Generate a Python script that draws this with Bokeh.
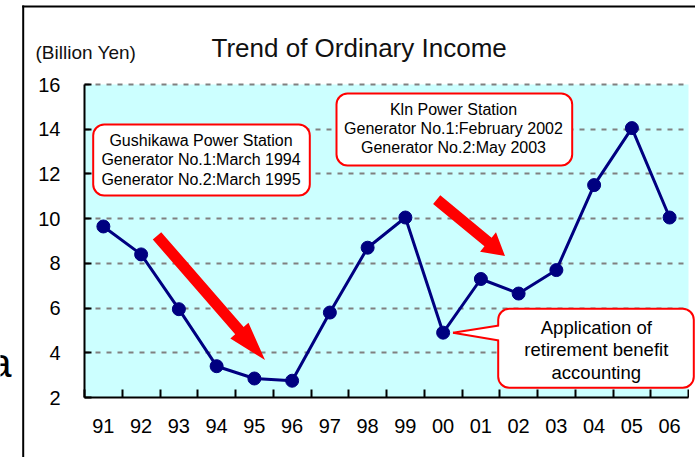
import math
from bokeh.plotting import figure
from bokeh.models import (Range1d, FixedTicker, BoxAnnotation, PolyAnnotation,
                          Label, Arrow)
from bokeh.embed import file_html
from bokeh.resources import INLINE

# ---- data ----
years = ["91", "92", "93", "94", "95", "96", "97", "98", "99", "00",
         "01", "02", "03", "04", "05", "06"]
income = [9.65, 8.4, 5.95, 3.4, 2.85, 2.75, 5.8, 8.7, 10.05, 4.9,
          7.3, 6.65, 7.7, 11.5, 14.05, 10.05]
y_ticks = [2, 4, 6, 8, 10, 12, 14, 16]

title_text = "Trend of Ordinary Income"
unit_text = "(Billion Yen)"
box1_lines = ["Gushikawa Power Station", "Generator No.1:March 1994",
              "Generator No.2:March 1995"]
box2_lines = ["Kln Power Station", "Generator No.1:February 2002",
              "Generator No.2:May 2003"]
box3_lines = ["Application of", "retirement benefit", "accounting"]

FONT = "Liberation Sans"
NAVY = "#000080"
RED = "#FF0000"
CYAN = "#CCFFFF"

xs = [i + 0.5 for i in range(len(years))]

W, H = 695, 457
FL, FR, FT, FB = 84, 688, 84, 397
XMIN, XMAX = 0, 16
YMIN, YMAX = 2, 16
sx = (FR - FL) / (XMAX - XMIN)
sy = (FB - FT) / (YMAX - YMIN)

def X(px):
    return XMIN + (px - FL) / sx
def Y(py):
    return YMIN + (FB - py) / sy

p = figure(width=W, height=H, x_range=Range1d(X(0), X(W)), y_range=Range1d(Y(H), Y(0)),
           output_backend="svg", toolbar_location=None, min_border=0)
p.title.visible = False
p.background_fill_color = "white"
p.border_fill_color = "white"
p.outline_line_color = None

p.add_layout(BoxAnnotation(left=XMIN, right=XMAX, bottom=YMIN, top=YMAX,
                           fill_color=CYAN, fill_alpha=1, line_color=None,
                           level="image"))

xa = p.xaxis[0]
xa.fixed_location = YMIN
xa.bounds = (XMIN, XMAX)
xa.ticker = FixedTicker(ticks=xs, minor_ticks=list(range(XMIN, XMAX + 1)))
xa.major_label_overrides = {x: y for x, y in zip(xs, years)}
xa.major_tick_in = 0
xa.major_tick_out = 0
xa.minor_tick_in = 8
xa.minor_tick_out = 0
xa.minor_tick_line_color = "black"
xa.minor_tick_line_width = 2
xa.axis_line_color = "black"
xa.axis_line_width = 2
xa.major_label_text_font = FONT
xa.major_label_text_font_size = "20px"
xa.major_label_text_color = "black"
xa.major_label_standoff = 21

ya = p.yaxis[0]
ya.fixed_location = XMIN
ya.bounds = (YMIN, YMAX)
ya.ticker = FixedTicker(ticks=y_ticks)
ya.major_tick_in = 7
ya.major_tick_out = 0
ya.minor_tick_in = 0
ya.minor_tick_out = 0
ya.major_tick_line_color = "black"
ya.major_tick_line_width = 2
ya.axis_line_color = "black"
ya.axis_line_width = 2
ya.major_label_text_font = FONT
ya.major_label_text_font_size = "20px"
ya.major_label_text_color = "black"
ya.major_label_text_align = "right"
ya.major_label_text_baseline = "middle"
ya.major_label_standoff = 24

p.xgrid.visible = False
p.ygrid.ticker = FixedTicker(ticks=y_ticks[1:])
p.ygrid.bounds = (YMIN, YMAX)
p.ygrid.cross_bounds = (XMIN, XMAX)
p.ygrid.grid_line_color = "#808080"
p.ygrid.grid_line_width = 2
p.ygrid.grid_line_dash = "5 6"
p.ygrid.level = "underlay"

# data
p.line(xs, income, line_color=NAVY, line_width=3)
p.scatter(xs, income, size=13, fill_color=NAVY, line_color=NAVY)

# white strip right of the plotting area (keeps the grid inside it)
p.add_layout(BoxAnnotation(left=X(FR + 0.5), right=X(W + 10), bottom=Y(H + 10), top=Y(8),
                           fill_color="white", fill_alpha=1, line_color=None,
                           level="annotation"))

# outer slide frame
p.add_layout(Arrow(end=None, x_start=X(22.7), y_start=Y(5), x_end=X(22.7), y_end=Y(H + 10),
                   line_color="black", line_width=2))
p.add_layout(Arrow(end=None, x_start=X(21.7), y_start=Y(6), x_end=X(W + 10), y_end=Y(6),
                   line_color="black", line_width=2))

p.add_layout(Label(x=X(211), y=Y(47.5), text=title_text, text_font=FONT,
                   text_font_size="26px", text_color="#111111",
                   text_align="left", text_baseline="middle"))
p.add_layout(Label(x=X(35), y=Y(51.5), text=unit_text, text_font=FONT,
                   text_font_size="19px", text_color="#111111",
                   text_align="left", text_baseline="middle"))
p.add_layout(Label(x=X(11), y=Y(362), text="a", text_font=FONT,
                   text_font_size="40px", text_color="black",
                   text_align="right", text_baseline="middle"))

def arrow_poly(S, T, w, hw, hl):
    dx, dy = T[0] - S[0], T[1] - S[1]
    L = math.hypot(dx, dy)
    ux, uy = dx / L, dy / L
    nx, ny = -uy, ux
    B = (T[0] - ux * hl, T[1] - uy * hl)
    pts = [(S[0] + nx * w / 2, S[1] + ny * w / 2),
           (B[0] + nx * w / 2, B[1] + ny * w / 2),
           (B[0] + nx * hw / 2, B[1] + ny * hw / 2),
           T,
           (B[0] - nx * hw / 2, B[1] - ny * hw / 2),
           (B[0] - nx * w / 2, B[1] - ny * w / 2),
           (S[0] - nx * w / 2, S[1] - ny * w / 2)]
    return [X(a) for a, b in pts], [Y(b) for a, b in pts]

for S, T, w, hw, hl in [((156.5, 235.3), (264.5, 359.5), 11.2, 24, 39),
                        ((436.2, 199.2), (504.5, 255.5), 11.3, 25, 22)]:
    ax, ay = arrow_poly(S, T, w, hw, hl)
    p.add_layout(PolyAnnotation(xs=ax, ys=ay, fill_color=RED, fill_alpha=1,
                                line_color=None))

def rbox(l, r, t, b):
    p.add_layout(BoxAnnotation(left=X(l), right=X(r), top=Y(t), bottom=Y(b),
                               fill_color="white", fill_alpha=1,
                               line_color=RED, line_alpha=1, line_width=2,
                               border_radius=11))

def lines(cx, ys_, texts, size):
    for yy, tt in zip(ys_, texts):
        p.add_layout(Label(x=X(cx), y=Y(yy), text=tt, text_font=FONT,
                           text_font_size=size, text_color="black",
                           text_align="center", text_baseline="middle"))

rbox(92.7, 309.3, 124, 195)
lines(200.5, [140, 159, 178.5], box1_lines, "16px")

rbox(336, 571.7, 93, 165)
lines(453, [109, 128, 147], box2_lines, "16px")

rbox(497.7, 693.3, 308.3, 387.3)
p.add_layout(PolyAnnotation(xs=[X(500), X(453.3), X(500)],
                            ys=[Y(325), Y(332.3), Y(340)],
                            fill_color="white", fill_alpha=1, line_color=None))
p.add_layout(Arrow(end=None, x_start=X(498.5), y_start=Y(325), x_end=X(452.5), y_end=Y(332.3),
                   line_color=RED, line_width=2))
p.add_layout(Arrow(end=None, x_start=X(452.5), y_start=Y(332.3), x_end=X(498.5), y_end=Y(340),
                   line_color=RED, line_width=2))
lines(595.8, [327, 349, 372], box3_lines, "18.5px")

open("out.html", "w").write(file_html(p, INLINE))
